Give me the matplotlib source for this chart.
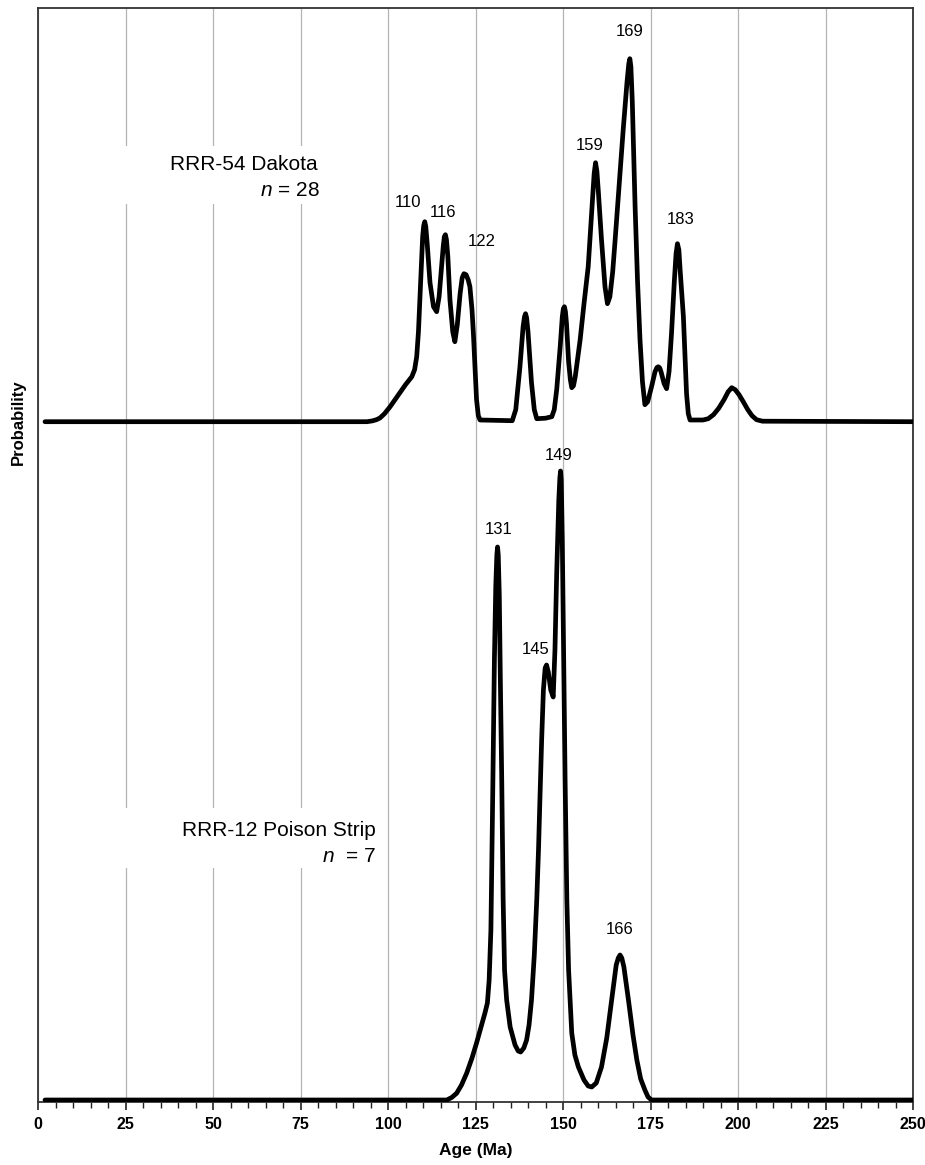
import matplotlib
matplotlib.use("Agg")
import matplotlib.pyplot as plt
from matplotlib.patches import Rectangle
from matplotlib.ticker import MultipleLocator

plt.rcParams['font.family'] = ['Liberation Sans', 'DejaVu Sans']
plt.rcParams['mathtext.fontset'] = 'custom'
plt.rcParams['mathtext.rm'] = 'Liberation Sans'
plt.rcParams['mathtext.it'] = 'Liberation Sans:italic'

# ---- data (relative probability, arbitrary units) ----
dakota_age = [2, 94, 95.5, 96.7, 97.7, 99, 100.6, 102, 103.4, 105, 106.8, 107.6, 108.2, 108.7, 109.1,
              109.5, 109.9, 110.2, 110.5, 110.8, 111.2, 112, 113, 113.9, 114.6, 115.3, 115.8, 116.1,
              116.4, 116.7, 117.1, 117.7, 118.5, 119.1, 119.8, 120.6, 121.2, 121.7, 122.3, 122.9, 123.4,
              124, 124.4, 124.9, 125.3, 125.8, 126.3, 135.5, 136.5, 137.7, 138.6, 139, 139.3, 139.6, 140,
              141, 141.8, 142.5, 145, 146.8, 147.5, 148.2, 149.2, 149.8, 150.1, 150.4, 150.7, 151, 151.6,
              152.1, 152.5, 153, 153.5, 154.9, 156, 157.2, 158.3, 158.9, 159.3, 159.7, 160.1, 161, 162,
              162.7, 163.4, 164.2, 164.9, 166, 167.2, 168.3, 168.8, 169.1, 169.4, 169.8, 170.6, 171.3,
              172, 172.7, 173.4, 174.2, 175.3, 176.3, 176.8, 177.2, 177.6, 178, 178.9, 179.6, 180.3, 181,
              181.8, 182.3, 182.7, 183.1, 183.5, 184.4, 185, 185.3, 185.8, 186.3, 190, 191.5, 193, 194.5,
              196, 197.2, 198.2, 199.2, 200.3, 201.5, 202.8, 204, 205.3, 207, 250]
dakota_prob = [0, 0, 0.8, 2, 3.7, 8, 15, 22, 29, 37, 45, 52, 65, 90, 122,
               155, 185, 196, 200, 195, 178, 139, 115, 110, 125, 155, 176, 185,
               187, 182, 165, 122, 90, 80, 97, 128, 144, 148, 147, 142, 135,
               112, 88, 50, 22, 6, 1.7, 1, 12, 55, 95, 105, 108, 104, 90,
               39, 12, 3, 3.5, 5, 12, 32, 75, 105, 113, 115, 110, 98, 60,
               42, 34, 36, 45, 82, 118, 155, 215, 248, 259, 250, 230, 182, 135,
               118, 125, 150, 182, 235, 292, 340, 358, 363, 355, 320, 215, 140,
               82, 40, 17, 20, 35, 50, 54, 55, 54, 50, 38, 33, 50, 88,
               140, 168, 178, 172, 150, 105, 55, 28, 8, 1.7, 1.7, 3, 7, 13.5,
               22, 30, 34, 32, 27, 20, 12, 6, 2, 0.5, 0]

poison_age = [2, 116.8, 118.2, 119.6, 121, 122.5, 124, 125.3, 126.5, 127.7, 128.4, 128.9, 129.4, 129.9,
              130.4, 130.8, 131.1, 131.3, 131.5, 131.8, 132.1, 132.5, 132.9, 133.3, 133.9, 134.9, 136.3,
              137.2, 137.9, 138.8, 139.6, 140.3, 141, 141.8, 142.5, 143, 143.4, 143.9, 144.4, 144.9,
              145.3, 145.8, 146.5, 147.2, 147.7, 148.2, 148.8, 149.1, 149.3, 149.5, 149.8, 150.2, 150.6,
              151.1, 151.6, 152.5, 153.4, 154.4, 156, 157.2, 158.2, 159.5, 161, 162.5, 163.9, 165.2,
              165.8, 166.3, 166.8, 167.4, 168.7, 170, 171.1, 172.2, 173.4, 174.3, 175.3, 250]
poison_prob = [0, 0, 2.5, 6.7, 15, 27, 42, 57, 72, 87, 97, 120, 170, 300,
               440, 515, 545, 553, 545, 505, 420, 320, 200, 130, 100, 73, 55,
               49, 48, 52, 60, 75, 100, 145, 200, 250, 300, 360, 410, 432,
               435, 428, 410, 403, 450, 527, 600, 622, 629, 620, 560, 440, 320,
               200, 130, 67, 45, 33, 20, 14, 13, 17, 33, 62, 100, 135,
               142, 145, 142, 133, 100, 65, 40, 21, 10, 3, 0, 0]

sample_names = ["RRR-54 Dakota", "RRR-12 Poison Strip"]
sample_n = [28, 7]

dakota_peaks = ["110", "116", "122", "159", "169", "183"]
poison_peaks = ["131", "145", "149", "166"]

x_ticks = list(range(0, 251, 25))

# ---- styling / layout ----
dakota_offset = 680.3
poison_offset = 2.0
dakota_label_pos = [(105.8, 899.7), (115.8, 889.3), (126.9, 861), (157.7, 957), (169.1, 1070), (183.7, 882.7)]
poison_label_pos = [(131.7, 572.7), (142.2, 453), (148.9, 646), (166.3, 172)]

fig = plt.figure(figsize=(9.25, 11.65), dpi=100)
ax = fig.add_axes([38/925, 63/1165, 875/925, 1094/1165])
ax.set_xlim(0, 250)
ax.set_ylim(0, 1094)

ax.set_xticks(x_ticks)
ax.xaxis.set_minor_locator(MultipleLocator(5))
ax.set_xticklabels([str(t) for t in x_ticks], fontsize=11.5, fontweight='bold')
ax.tick_params(axis='x', which='major', length=6, width=1.2, direction='out', pad=5, color='#222222')
ax.tick_params(axis='x', which='minor', length=4, width=1.0, direction='out', color='#222222')
ax.set_yticks([])
ax.grid(axis='x', which='major', color='#b4b4b4', linewidth=0.9)
ax.set_axisbelow(True)
for s in ax.spines.values():
    s.set_linewidth(1.3)
    s.set_color('#333333')

# white boxes behind sample labels (cover grid lines)
ax.add_patch(Rectangle(((120-38)/875, (1102-204)/1094), (345-120)/875, 58/1094,
                       transform=ax.transAxes, facecolor='white', edgecolor='none', zorder=1.5))
ax.add_patch(Rectangle(((120-38)/875, (1102-868)/1094), (385-120)/875, 60/1094,
                       transform=ax.transAxes, facecolor='white', edgecolor='none', zorder=1.5))

ax.plot(dakota_age, [p + dakota_offset for p in dakota_prob], color='black', lw=3.4,
        solid_joinstyle='round', solid_capstyle='round', zorder=3)
ax.plot(poison_age, [p + poison_offset for p in poison_prob], color='black', lw=3.4,
        solid_joinstyle='round', solid_capstyle='round', zorder=3)

for lab, (x, y) in zip(dakota_peaks, dakota_label_pos):
    ax.text(x, y, lab, ha='center', va='center', fontsize=12, zorder=4)
for lab, (x, y) in zip(poison_peaks, poison_label_pos):
    ax.text(x, y, lab, ha='center', va='center', fontsize=12, zorder=4)

# sample labels
ax.text((318-38)/3.5, 1102-164, sample_names[0], ha='right', va='center', fontsize=15, zorder=4)
ax.text((320-38)/3.5, 1102-191, f"$n$ = {sample_n[0]}", ha='right', va='center', fontsize=15, zorder=4)
ax.text((376-38)/3.5, 1102-830, sample_names[1], ha='right', va='center', fontsize=15, zorder=4)
ax.text((376-38)/3.5, 1102-857, f"$n$  = {sample_n[1]}", ha='right', va='center', fontsize=15, zorder=4)

ax.set_xlabel("Age (Ma)", fontsize=12.5, fontweight='bold', labelpad=8)
fig.text(18/925, 1 - 422/1165, "Probability", rotation=90, ha='center', va='center',
         fontsize=12, fontweight='bold')

fig.savefig("out.png", dpi=100)
